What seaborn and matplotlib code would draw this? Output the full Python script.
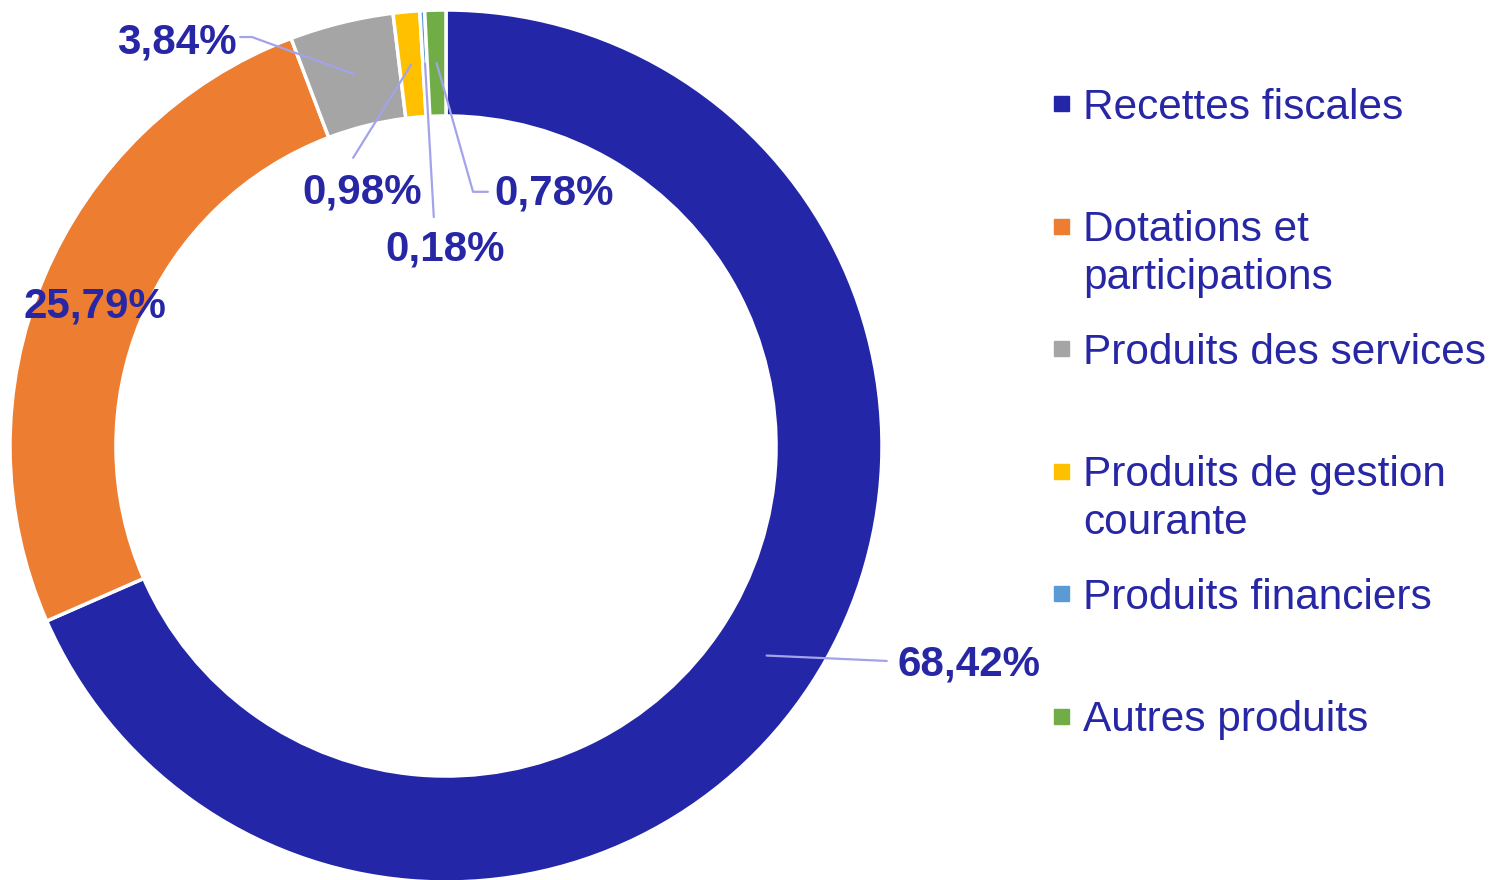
import seaborn as sns
import matplotlib.pyplot as plt
import matplotlib.patches as mpatches
import numpy as np

# données du graphique (répartition des recettes)
categories = ['Recettes fiscales', 'Dotations et\nparticipations', 'Produits des services',
              'Produits de gestion\ncourante', 'Produits financiers', 'Autres produits']
valeurs = [68.42, 25.79, 3.84, 0.98, 0.18, 0.78]
couleurs = ['#2326A6', '#ED7D31', '#A5A5A5', '#FFC000', '#5B9BD5', '#70AD47']

# position des étiquettes et traits de rappel
pos_etiquettes = [(1.199, -0.502), (-0.805, 0.319), (-0.617, 0.926), (-0.192, 0.582),
                  (-0.001, 0.451), (0.247, 0.578)]
traits = [[(1.011, -0.493)], [], [(-0.445, 0.938), (-0.472, 0.938)],
          [(-0.213, 0.661)], [(-0.028, 0.525)], [(0.062, 0.583), (0.096, 0.583)]]

sns.set_style('white')
plt.rcParams['font.family'] = ['Liberation Sans', 'DejaVu Sans']

bleu_texte = '#2727A6'
W, H = 1491, 880
fig = plt.figure(figsize=(W / 100, H / 100), dpi=100)

# anneau : centre (446, 446) px, rayon 436 px
cx, cy, r = 446, 446, 436
ax = fig.add_axes([(cx - r) / W, (H - cy - r) / H, 2 * r / W, 2 * r / H])
largeur = 0.243
wedges, _ = ax.pie(valeurs, colors=couleurs, startangle=90, counterclock=False,
                   radius=1, wedgeprops=dict(width=largeur, edgecolor='white', linewidth=2.5))
ax.set_xlim(-1, 1)
ax.set_ylim(-1, 1)
ax.set_aspect('equal')
ax.axis('off')

r_mil = 1 - largeur / 2
for i, w in enumerate(wedges):
    ang = np.deg2rad((w.theta1 + w.theta2) / 2)
    ancre = (r_mil * np.cos(ang), r_mil * np.sin(ang))
    txt = f"{valeurs[i]:.2f}".replace('.', ',') + '%'
    pos = pos_etiquettes[i]
    if traits[i]:
        pts = [ancre] + traits[i]
        ax.plot([p[0] for p in pts], [p[1] for p in pts], color='#A3A3EA', lw=1.6,
                clip_on=False, zorder=3)
    ax.text(pos[0], pos[1], txt, ha='center', va='center', fontsize=30.3,
            fontweight='bold', color=bleu_texte, zorder=4)

# légende à droite
y0, pas, interligne = 104, 122.4, 48
for i, cat in enumerate(categories):
    yc = y0 + pas * i
    fig.add_artist(mpatches.Rectangle((1054 / W, (H - yc - 7.5) / H), 15 / W, 15 / H,
                                      color=couleurs[i], transform=fig.transFigure))
    for j, ligne in enumerate(cat.split('\n')):
        fig.text(1083 / W, (H - (yc + 15 + interligne * j)) / H, ligne, ha='left',
                 va='baseline', fontsize=30.5, color=bleu_texte)

fig.savefig('out.png', dpi=100)
